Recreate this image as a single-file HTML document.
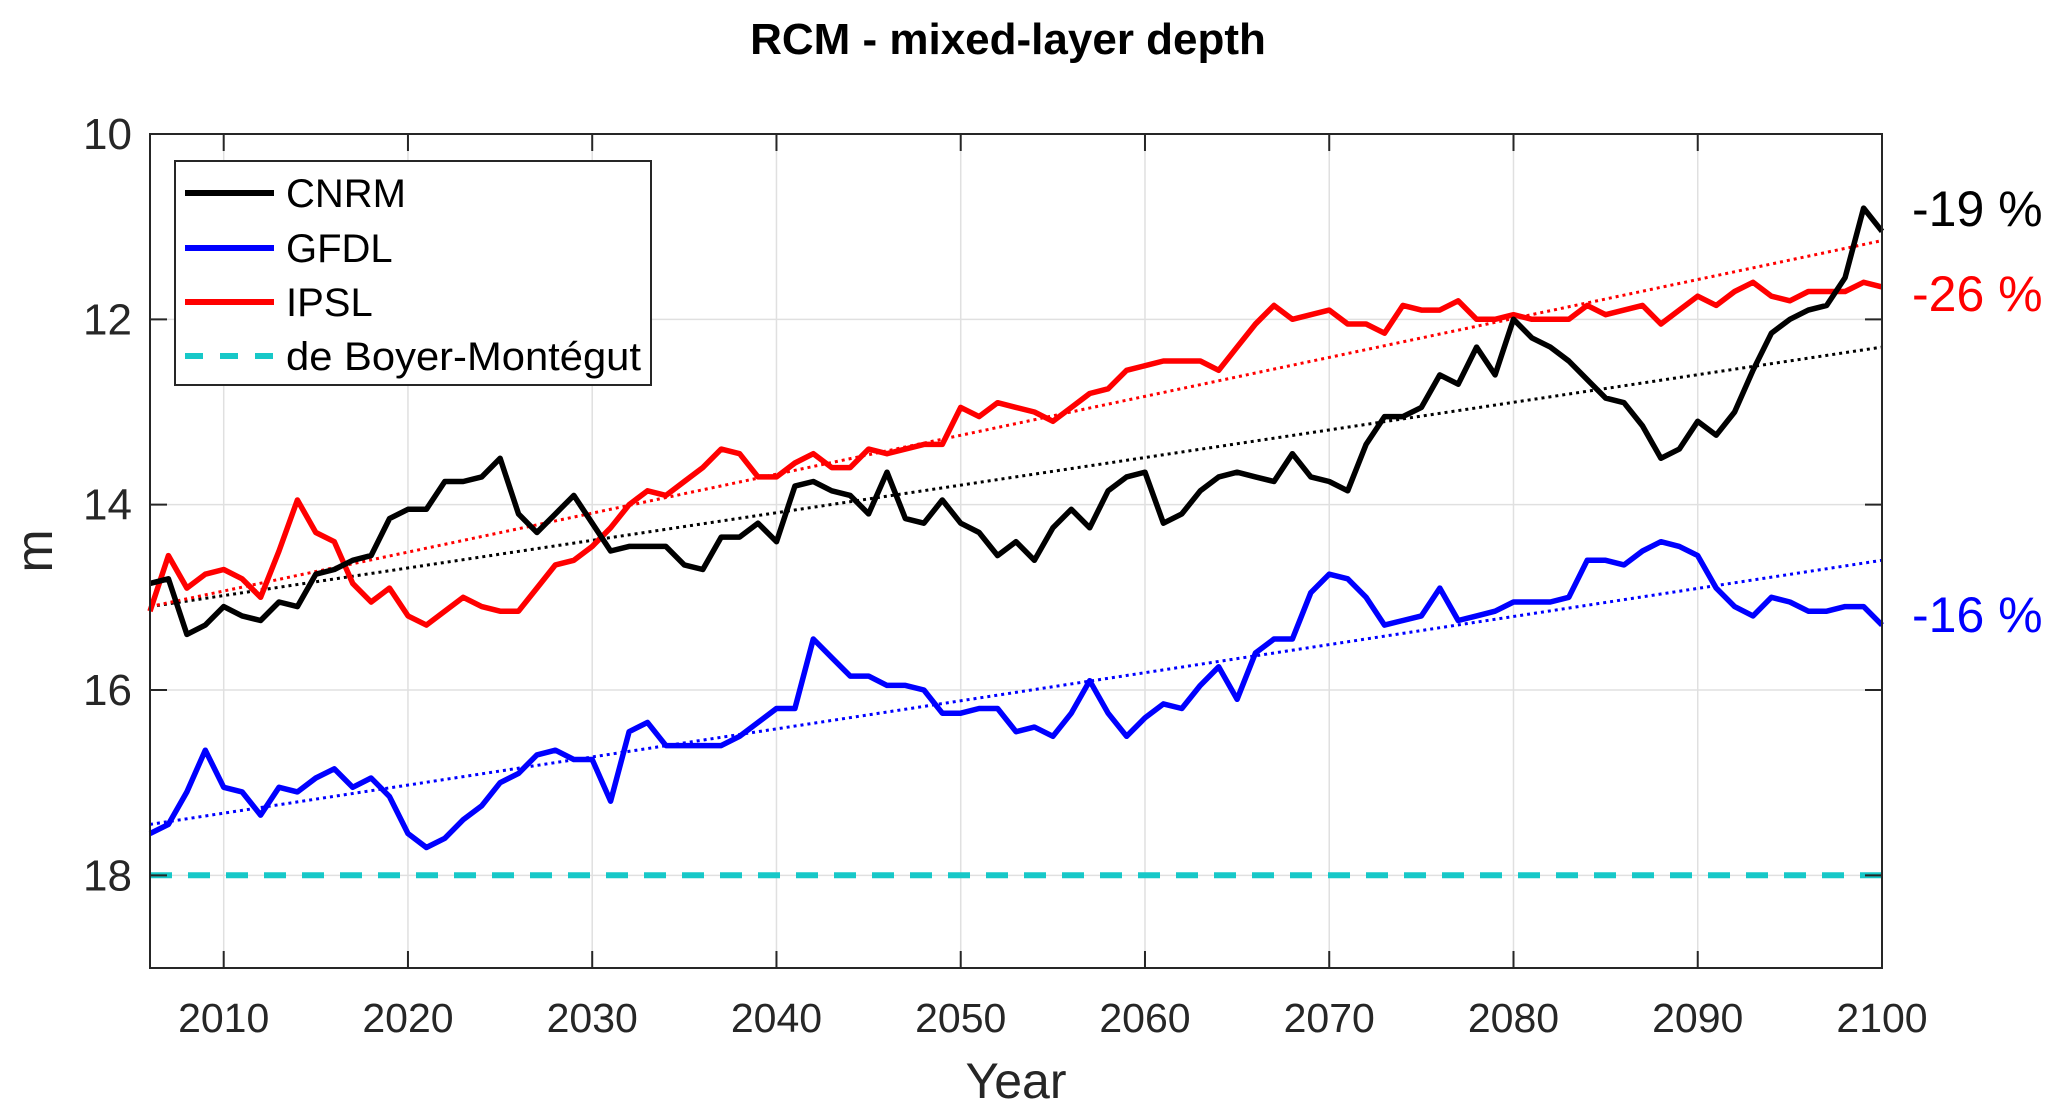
<!DOCTYPE html>
<html><head><meta charset="utf-8">
<style>
html,body{margin:0;padding:0;background:#fff;}
svg{display:block;font-family:"Liberation Sans",Arial,sans-serif;}
</style></head>
<body>
<svg id="chart" width="2067" height="1117" viewBox="0 0 2067 1117" xmlns="http://www.w3.org/2000/svg">
<rect width="2067" height="1117" fill="#fff"/>
<text x="1008" y="54" text-anchor="middle" font-size="44" font-weight="bold" fill="#000">RCM - mixed-layer depth</text>
<g id="grid"></g>
<g id="series"></g>
<rect x="150" y="134" width="1732" height="834" fill="none" stroke="#262626" stroke-width="2"/>
<g id="axes"></g>
<text x="1016" y="1098" text-anchor="middle" font-size="50" fill="#262626">Year</text>
<text transform="translate(52,551) rotate(-90)" text-anchor="middle" font-size="52" fill="#262626">m</text>
<text x="1912" y="226" font-size="50" fill="#000">-19 %</text>
<text x="1912" y="311" font-size="50" fill="#ff0000">-26 %</text>
<text x="1912" y="632" font-size="50" fill="#0000ff">-16 %</text>
<g>
<rect x="175" y="161" width="476" height="224" fill="#fff" stroke="#262626" stroke-width="2"/>
<line x1="185" y1="193" x2="274" y2="193" stroke="#000" stroke-width="6"/>
<text x="286" y="207" font-size="40" fill="#000">CNRM</text>
<line x1="185" y1="248" x2="274" y2="248" stroke="#0000ff" stroke-width="6"/>
<text x="286" y="262" font-size="40" fill="#000">GFDL</text>
<line x1="185" y1="302" x2="274" y2="302" stroke="#ff0000" stroke-width="6"/>
<text x="286" y="316" font-size="40" fill="#000">IPSL</text>
<line x1="185" y1="356" x2="274" y2="356" stroke="#17c8c8" stroke-width="6" stroke-dasharray="18,17"/>
<text x="286" y="370" font-size="40" fill="#000" textLength="355" lengthAdjust="spacingAndGlyphs">de Boyer-Montégut</text>
</g>
</svg>
<script>
const years = []; for (let y = 2006; y <= 2100; y++) years.push(y);
const cnrm = [14.85,14.8,15.4,15.3,15.1,15.2,15.25,15.05,15.1,14.75,14.7,14.6,14.55,14.15,14.05,14.05,13.75,13.75,13.7,13.5,14.1,14.3,14.1,13.9,14.2,14.5,14.45,14.45,14.45,14.65,14.7,14.35,14.35,14.2,14.4,13.8,13.75,13.85,13.9,14.1,13.65,14.15,14.2,13.95,14.2,14.3,14.55,14.4,14.6,14.25,14.05,14.25,13.85,13.7,13.65,14.2,14.1,13.85,13.7,13.65,13.7,13.75,13.45,13.7,13.75,13.85,13.35,13.05,13.05,12.95,12.6,12.7,12.3,12.6,12.0,12.2,12.3,12.45,12.65,12.85,12.9,13.15,13.5,13.4,13.1,13.25,13.0,12.55,12.15,12.0,11.9,11.85,11.55,10.8,11.05];
const ipsl = [15.15,14.55,14.9,14.75,14.7,14.8,15.0,14.5,13.95,14.3,14.4,14.85,15.05,14.9,15.2,15.3,15.15,15.0,15.1,15.15,15.15,14.9,14.65,14.6,14.45,14.25,14.0,13.85,13.9,13.75,13.6,13.4,13.45,13.7,13.7,13.55,13.45,13.6,13.6,13.4,13.45,13.4,13.35,13.35,12.95,13.05,12.9,12.95,13.0,13.1,12.95,12.8,12.75,12.55,12.5,12.45,12.45,12.45,12.55,12.3,12.05,11.85,12.0,11.95,11.9,12.05,12.05,12.15,11.85,11.9,11.9,11.8,12.0,12.0,11.95,12.0,12.0,12.0,11.85,11.95,11.9,11.85,12.05,11.9,11.75,11.85,11.7,11.6,11.75,11.8,11.7,11.7,11.7,11.6,11.65];
const gfdl = [17.55,17.45,17.1,16.65,17.05,17.1,17.35,17.05,17.1,16.95,16.85,17.05,16.95,17.15,17.55,17.7,17.6,17.4,17.25,17.0,16.9,16.7,16.65,16.75,16.75,17.2,16.45,16.35,16.6,16.6,16.6,16.6,16.5,16.35,16.2,16.2,15.45,15.65,15.85,15.85,15.95,15.95,16.0,16.25,16.25,16.2,16.2,16.45,16.4,16.5,16.25,15.9,16.25,16.5,16.3,16.15,16.2,15.95,15.75,16.1,15.6,15.45,15.45,14.95,14.75,14.8,15.0,15.3,15.25,15.2,14.9,15.25,15.2,15.15,15.05,15.05,15.05,15.0,14.6,14.6,14.65,14.5,14.4,14.45,14.55,14.9,15.1,15.2,15.0,15.05,15.15,15.15,15.1,15.1,15.3];
const trendYears = [2006, 2100];
const cnrmTrend = [15.1, 12.3];
const ipslTrend = [15.1, 11.15];
const gfdlTrend = [17.45, 14.6];
const reference = [18, 18];
const xTicks = [2010,2020,2030,2040,2050,2060,2070,2080,2090,2100];
const yTicks = [10,12,14,16,18];

const NS = 'http://www.w3.org/2000/svg';
const L = 150, R = 1882, T = 134, B = 968;
const xMin = 2006, xMax = 2100, yMin = 10, yMax = 19;
const xs = v => L + (v - xMin) / (xMax - xMin) * (R - L);
const ys = v => T + (v - yMin) / (yMax - yMin) * (B - T);
function mk(tag, attrs, parent) {
  const e = document.createElementNS(NS, tag);
  for (const k in attrs) e.setAttribute(k, attrs[k]);
  parent.appendChild(e); return e;
}
const grid = document.getElementById('grid'), axes = document.getElementById('axes'), ser = document.getElementById('series');
xTicks.forEach(t => {
  const g = mk('line', {x1: xs(t), x2: xs(t), y1: T, y2: B, stroke: '#e0e0e0', 'stroke-width': 1.5}, grid);
  
  
  const a = mk('line', {x1: xs(t), x2: xs(t), y1: B, y2: B - 17, stroke: '#262626', 'stroke-width': 2}, axes);
  
  
  const b = mk('line', {x1: xs(t), x2: xs(t), y1: T, y2: T + 17, stroke: '#262626', 'stroke-width': 2}, axes);
  
  
  const tx = mk('text', {x: xs(t), y: 1032, 'text-anchor': 'middle', 'font-size': 41, fill: '#262626'}, axes);
  tx.textContent = t;
  
  
});
yTicks.forEach(t => {
  const g = mk('line', {x1: L, x2: R, y1: ys(t), y2: ys(t), stroke: '#e0e0e0', 'stroke-width': 1.5}, grid);
  
  
  const a = mk('line', {x1: L, x2: L + 17, y1: ys(t), y2: ys(t), stroke: '#262626', 'stroke-width': 2}, axes);
  
  
  const b = mk('line', {x1: R, x2: R - 17, y1: ys(t), y2: ys(t), stroke: '#262626', 'stroke-width': 2}, axes);
  
  
  const tx = mk('text', {x: L - 18, y: ys(t) + 15, 'text-anchor': 'end', 'font-size': 44, fill: '#262626'}, axes);
  tx.textContent = t;
  
  
});
function poly(xv, yv, color, w, dash, name) {
  const pts = xv.map((x, i) => xs(x).toFixed(1) + ',' + ys(yv[i]).toFixed(1)).join(' ');
  const attrs = {points: pts, fill: 'none', stroke: color, 'stroke-width': w, 'stroke-linejoin': 'round'};
  if (dash) attrs['stroke-dasharray'] = dash;
  const p = mk('polyline', attrs, ser);
  
  
}
poly(trendYears, reference, '#17c8c8', 6, '22,16', 'boyer-reference-line');
poly(trendYears, cnrmTrend, '#000', 3, '3,4', 'cnrm-trend-line');
poly(trendYears, ipslTrend, '#ff0000', 3, '3,4', 'ipsl-trend-line');
poly(trendYears, gfdlTrend, '#0000ff', 3, '3,4', 'gfdl-trend-line');
poly(years, gfdl, '#0000ff', 5.5, null, 'gfdl-line');
poly(years, ipsl, '#ff0000', 5.5, null, 'ipsl-line');
poly(years, cnrm, '#000', 5.5, null, 'cnrm-line');
</script>
</body></html>
